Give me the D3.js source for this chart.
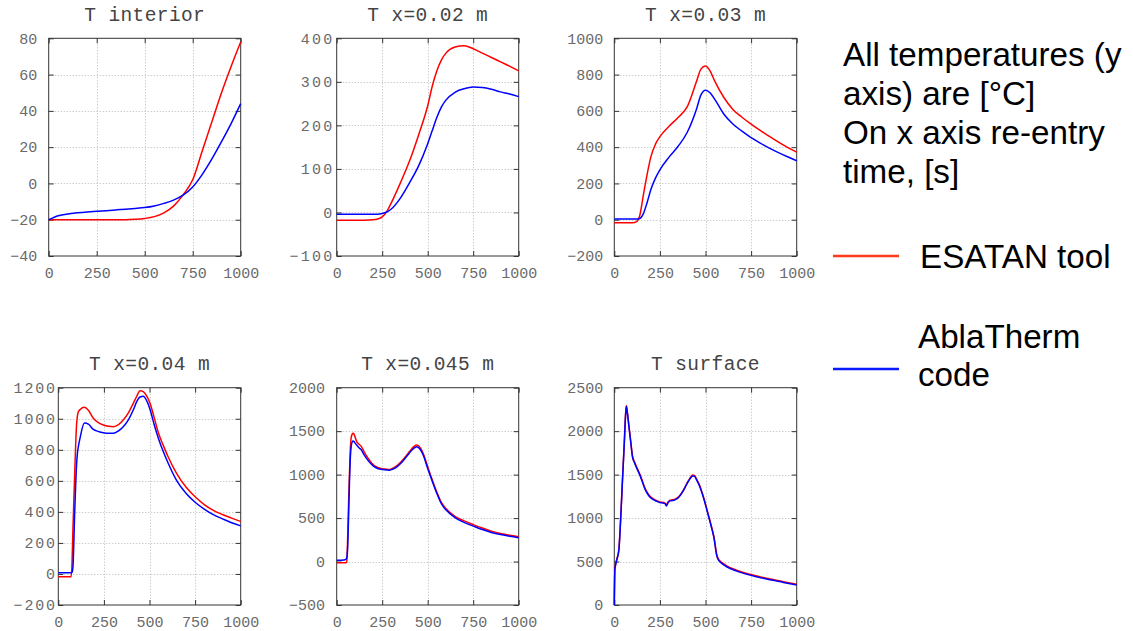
<!DOCTYPE html>
<html>
<head>
<meta charset="utf-8">
<script src="https://cdn.jsdelivr.net/npm/d3@7"></script>
<style>
  html, body { margin: 0; padding: 0; background: #fff; }
  svg { display: block; }
</style>
</head>
<body>
<svg id="chart" width="1133" height="631"></svg>
<script>
// ---------- DATA ----------
const panelTitles = ["T interior", "T x=0.02 m", "T x=0.03 m", "T x=0.04 m", "T x=0.045 m", "T surface"];
const xTickValues = [0, 250, 500, 750, 1000];
const yTicks1 = [-40, -20, 0, 20, 40, 60, 80];
const yTicks2 = [-100, 0, 100, 200, 300, 400];
const yTicks3 = [-200, 0, 200, 400, 600, 800, 1000];
const yTicks4 = [-200, 0, 200, 400, 600, 800, 1000, 1200];
const yTicks5 = [-500, 0, 500, 1000, 1500, 2000];
const yTicks6 = [0, 500, 1000, 1500, 2000, 2500];

const seriesNames = ["ESATAN tool", "AblaTherm code"];
const noteLines = ["All temperatures (y", "axis) are [°C]", "On x axis re-entry", "time, [s]"];

// Panel 1: T interior
const time1 = [0, 50, 100, 150, 200, 250, 300, 350, 400, 450, 500, 550, 600, 650, 700, 750, 800, 850, 900, 950, 1000];
const esatan1 = [-20, -20, -20, -20, -20, -20, -20, -20, -20, -19.8, -19.3, -18.3, -16.2, -12.5, -6.3, 2, 18, 34, 50, 64.5, 78];
const ablat1 = [-20, -17.8, -16.8, -16.2, -15.7, -15.3, -15, -14.6, -14.2, -13.8, -13.3, -12.4, -11, -9.2, -6.5, -2, 5, 13.5, 23, 33, 44];

// Panel 2: T x=0.02 m
const time2 = [0, 50, 100, 150, 200, 225, 250, 275, 300, 350, 400, 450, 500, 525, 550, 575, 600, 650, 700, 750, 800, 850, 900, 950, 1000];
const esatan2 = [-18, -18, -18, -18, -17, -15, -10, 2, 22, 68, 118, 178, 245, 290, 325, 350, 366, 380, 383, 376, 366, 356, 346, 336, 325];
const ablat2 = [-4, -4, -4, -4, -4, -4, -2.5, 1, 8, 33, 68, 107, 158, 188, 218, 242, 258, 276, 284, 288, 287, 283, 277, 272, 266];

// Panel 3: T x=0.03 m
const time3 = [0, 50, 100, 120, 140, 160, 180, 200, 225, 250, 300, 350, 400, 450, 475, 500, 525, 550, 600, 650, 700, 750, 800, 850, 900, 950, 1000];
const esatan3 = [-17, -17, -17, -12, 25, 140, 250, 345, 415, 458, 515, 563, 623, 760, 830, 847, 820, 765, 675, 608, 565, 527, 492, 459, 428, 399, 372];
const ablat3 = [4, 4, 4, 4, 7, 35, 95, 165, 228, 275, 345, 405, 482, 608, 688, 714, 700, 665, 583, 528, 488, 452, 422, 395, 370, 347, 325];

// Panel 4: T x=0.04 m
const time4 = [0, 50, 70, 75, 80, 90, 100, 105, 110, 120, 143, 165, 192, 220, 247, 275, 302, 330, 356, 385, 411, 430, 448, 466, 485, 503, 525, 550, 575, 600, 650, 700, 750, 800, 850, 900, 950, 1000];
const esatan4 = [-18, -18, -18, 60, 280, 650, 960, 1020, 1045, 1060, 1074, 1055, 1003, 975, 960, 952, 949, 962, 992, 1040, 1099, 1145, 1181, 1174, 1145, 1099, 1010, 905, 830, 760, 645, 560, 497, 447, 410, 383, 360, 338];
const ablat4 = [8, 8, 8, 10, 40, 400, 700, 780, 820, 880, 972, 965, 931, 918, 910, 906, 906, 922, 949, 995, 1056, 1110, 1140, 1145, 1115, 1060, 965, 870, 790, 720, 600, 520, 462, 418, 382, 355, 330, 310];

// Panel 5: T x=0.045 m
const time5 = [0, 40, 50, 55, 60, 65, 70, 75, 80, 85, 90, 95, 100, 110, 120, 135, 150, 175, 200, 225, 250, 275, 290, 300, 325, 350, 375, 400, 425, 440, 455, 475, 500, 525, 550, 575, 600, 650, 700, 750, 800, 850, 900, 950, 1000];
const esatan5 = [-15, -15, -13, -5, 250, 650, 1000, 1300, 1430, 1465, 1475, 1465, 1440, 1380, 1355, 1325, 1265, 1180, 1115, 1082, 1068, 1062, 1058, 1065, 1095, 1140, 1200, 1265, 1325, 1340, 1320, 1245, 1090, 940, 800, 680, 610, 520, 468, 425, 385, 350, 322, 302, 286];
const ablat5 = [15, 18, 25, 40, 150, 500, 900, 1200, 1330, 1375, 1387, 1380, 1365, 1341, 1315, 1285, 1230, 1155, 1100, 1070, 1058, 1054, 1050, 1057, 1080, 1125, 1185, 1250, 1305, 1322, 1300, 1225, 1070, 925, 785, 665, 595, 505, 450, 408, 368, 335, 310, 290, 274];

// Panel 6: T surface
const time6 = [0, 3, 8, 15, 25, 35, 45, 55, 62, 66, 70, 80, 90, 100, 110, 125, 141, 155, 168, 182, 196, 214, 232, 250, 269, 280, 285, 295, 305, 320, 333, 355, 378, 398, 415, 430, 440, 452, 466, 479, 493, 506, 518, 530, 547, 561, 570, 580, 598, 616, 671, 744, 835, 927, 1000];
const esatan6 = [0, 410, 475, 535, 640, 1000, 1450, 1880, 2200, 2295, 2245, 2065, 1885, 1710, 1650, 1575, 1500, 1420, 1345, 1290, 1250, 1220, 1200, 1185, 1180, 1170, 1150, 1185, 1205, 1210, 1218, 1250, 1320, 1400, 1460, 1495, 1490, 1445, 1385, 1310, 1215, 1115, 1020, 925, 775, 585, 530, 505, 475, 450, 400, 353, 307, 268, 238];
const ablat6 = [0, 400, 470, 530, 630, 990, 1440, 1870, 2190, 2285, 2235, 2055, 1875, 1700, 1640, 1565, 1490, 1410, 1335, 1280, 1240, 1212, 1193, 1178, 1172, 1162, 1140, 1178, 1198, 1202, 1210, 1243, 1312, 1392, 1452, 1485, 1480, 1435, 1375, 1300, 1205, 1105, 1010, 915, 765, 575, 520, 495, 465, 440, 390, 344, 298, 260, 230];

// ---------- LAYOUT (styles / positions) ----------
const panels = [
  { title: panelTitles[0], t: time1, a: esatan1, b: ablat1, yTicks: yTicks1, L: 48.7, R: 240.7, T: 38.3, B: 256, titleY: 21, yPad: 11.4, yLS: 0 },
  { title: panelTitles[1], t: time2, a: esatan2, b: ablat2, yTicks: yTicks2, L: 336.7, R: 518.7, T: 38.3, B: 256, titleY: 21, yPad: 4.4, yLS: 2.3 },
  { title: panelTitles[2], t: time3, a: esatan3, b: ablat3, yTicks: yTicks3, L: 614.3, R: 796.7, T: 38.3, B: 256, titleY: 21, yPad: 11, yLS: 0 },
  { title: panelTitles[3], t: time4, a: esatan4, b: ablat4, yTicks: yTicks4, L: 58.3, R: 240.7, T: 387.7, B: 605, titleY: 370, yPad: 3.3, yLS: 1.8 },
  { title: panelTitles[4], t: time5, a: esatan5, b: ablat5, yTicks: yTicks5, L: 336.7, R: 518.7, T: 387.7, B: 605, titleY: 370, yPad: 11.7, yLS: 0 },
  { title: panelTitles[5], t: time6, a: esatan6, b: ablat6, yTicks: yTicks6, L: 614.3, R: 796.7, T: 387.7, B: 605, titleY: 370, yPad: 11, yLS: 0 }
];

const RED = "#ff0000";
const BLUE = "#0000ff";
const mono = "'Liberation Mono', 'Courier New', monospace";

const svg = d3.select("#chart");

panels.forEach(p => {
  const x = d3.scaleLinear().domain([0, 1000]).range([p.L, p.R]);
  const yd = d3.extent(p.yTicks);
  const y = d3.scaleLinear().domain(yd).range([p.B, p.T]);
  const g = svg.append("g");

  // grid (dotted)
  const grid = g.append("g").attr("stroke", "#b8b8b8").attr("stroke-width", 1).attr("stroke-dasharray", "1,2");
  xTickValues.slice(1, -1).forEach(v => {
    grid.append("line").attr("x1", Math.round(x(v)) + 0.5).attr("x2", Math.round(x(v)) + 0.5).attr("y1", p.T).attr("y2", p.B);
  });
  p.yTicks.slice(1, -1).forEach(v => {
    grid.append("line").attr("y1", Math.round(y(v)) + 0.5).attr("y2", Math.round(y(v)) + 0.5).attr("x1", p.L).attr("x2", p.R);
  });

  // axes with inward ticks (mirrored)
  const styleAxis = (sel, ls) => {
    sel.select(".domain").remove();
    sel.selectAll(".tick line").attr("stroke", "#333");
    sel.selectAll(".tick text").attr("fill", "#6a6a6a").style("font-family", mono).style("font-size", "15px");
    if (ls) sel.selectAll(".tick text").style("letter-spacing", ls + "px");
  };
  g.append("g").attr("transform", `translate(0,${p.B})`)
    .call(d3.axisBottom(x).tickValues(xTickValues).tickSize(-5).tickPadding(11.3).tickFormat(d3.format("d")))
    .call(s => styleAxis(s, 0));
  g.append("g").attr("transform", `translate(0,${p.T})`)
    .call(d3.axisTop(x).tickValues(xTickValues).tickSize(-5).tickFormat(""))
    .call(s => styleAxis(s, 0));
  g.append("g").attr("transform", `translate(${p.L},0)`)
    .call(d3.axisLeft(y).tickValues(p.yTicks).tickSize(-5).tickPadding(p.yPad - p.yLS).tickFormat(d3.format("d")))
    .call(s => styleAxis(s, p.yLS));
  g.append("g").attr("transform", `translate(${p.R},0)`)
    .call(d3.axisRight(y).tickValues(p.yTicks).tickSize(-5).tickFormat(""))
    .call(s => styleAxis(s, 0));

  // frame
  g.append("rect").attr("x", p.L).attr("y", p.T).attr("width", p.R - p.L).attr("height", p.B - p.T)
    .attr("fill", "none").attr("stroke", "#333").attr("stroke-width", 1);

  // lines
  const line = vals => d3.line().x((d, i) => x(p.t[i])).y(d => y(d)).curve(d3.curveMonotoneX)(vals);
  g.append("path").attr("d", line(p.a)).attr("fill", "none").attr("stroke", RED).attr("stroke-width", 1.5);
  g.append("path").attr("d", line(p.b)).attr("fill", "none").attr("stroke", BLUE).attr("stroke-width", 1.5);

  // title
  g.append("text").attr("x", (p.L + p.R) / 2).attr("y", p.titleY).attr("text-anchor", "middle")
    .style("font-family", mono).style("font-size", "19.5px").style("letter-spacing", "0.4px")
    .attr("fill", "#444").text(p.title);
});

// ---------- NOTE + LEGEND ----------
const sans = "'Liberation Sans', Arial, sans-serif";
const fs = "33.2px";
const noteY = [66, 105, 144, 183];
noteLines.forEach((s, i) => {
  svg.append("text").attr("x", 843).attr("y", noteY[i]).style("font-family", sans).style("font-size", fs)
    .attr("fill", "#000").text(s);
});

svg.append("line").attr("x1", 833).attr("x2", 899).attr("y1", 256).attr("y2", 256).attr("stroke", "#ff3a1a").attr("stroke-width", 2.5);
svg.append("text").attr("x", 920).attr("y", 268).style("font-family", sans).style("font-size", fs).attr("fill", "#000").text(seriesNames[0]);

svg.append("line").attr("x1", 833).attr("x2", 899).attr("y1", 369).attr("y2", 369).attr("stroke", "#0a1aff").attr("stroke-width", 2.5);
const nameParts = seriesNames[1].split(" ");
svg.append("text").attr("x", 918).attr("y", 348).style("font-family", sans).style("font-size", fs).attr("fill", "#000").text(nameParts[0]);
svg.append("text").attr("x", 918).attr("y", 386).style("font-family", sans).style("font-size", fs).attr("fill", "#000").text(nameParts[1]);
</script>
</body>
</html>
